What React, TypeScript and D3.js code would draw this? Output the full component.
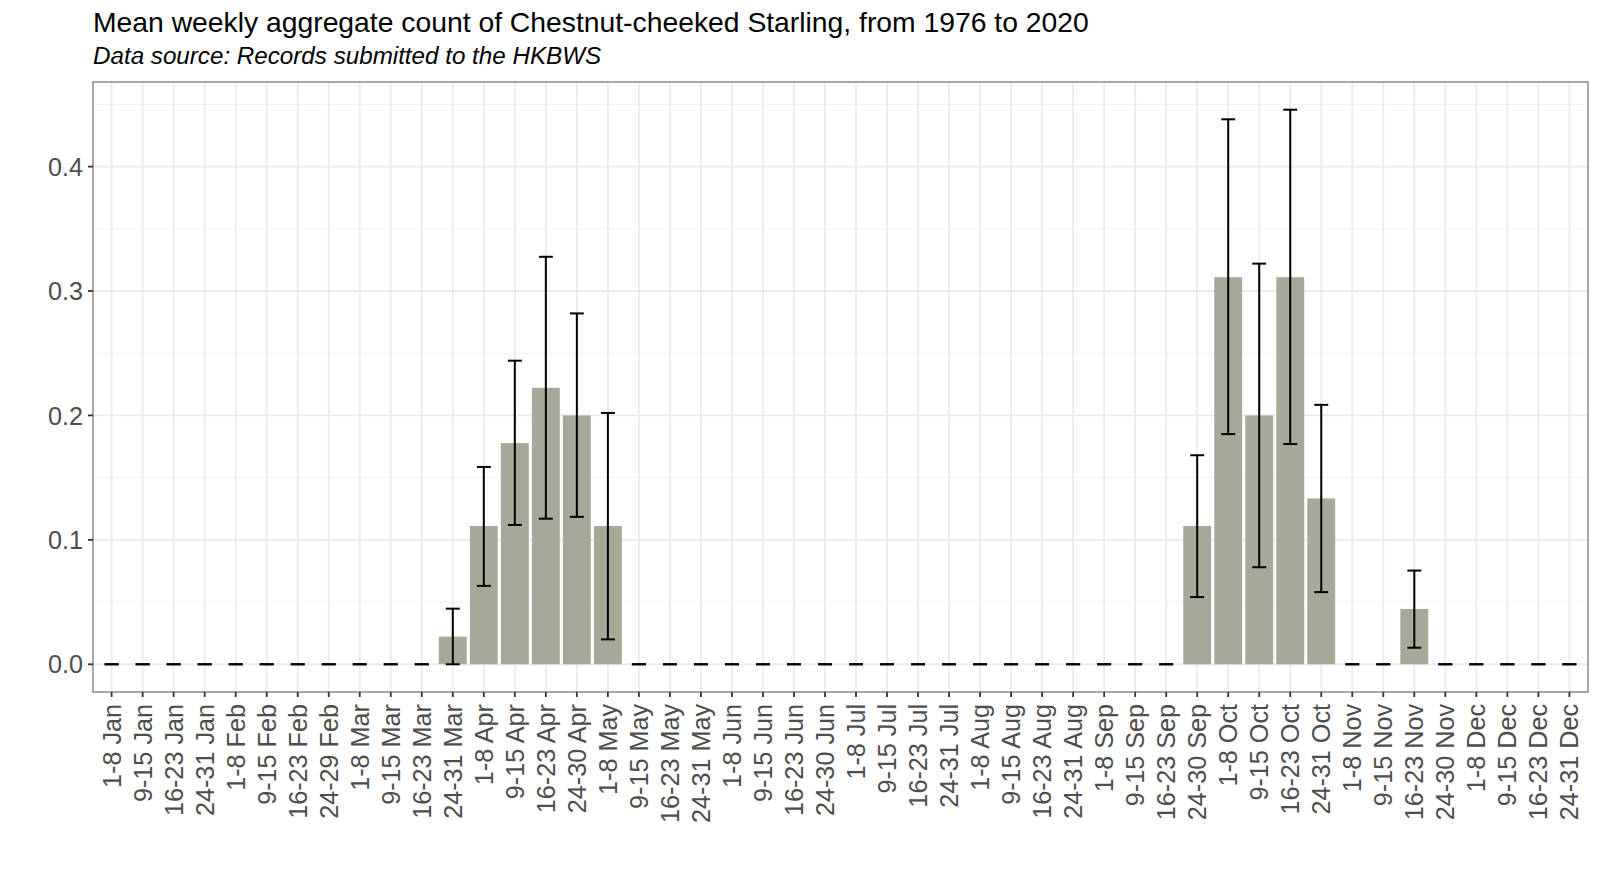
import * as React from "react";
import * as d3 from "d3";

const weeks = [
  "1-8 Jan", "9-15 Jan", "16-23 Jan", "24-31 Jan",
  "1-8 Feb", "9-15 Feb", "16-23 Feb", "24-29 Feb",
  "1-8 Mar", "9-15 Mar", "16-23 Mar", "24-31 Mar",
  "1-8 Apr", "9-15 Apr", "16-23 Apr", "24-30 Apr",
  "1-8 May", "9-15 May", "16-23 May", "24-31 May",
  "1-8 Jun", "9-15 Jun", "16-23 Jun", "24-30 Jun",
  "1-8 Jul", "9-15 Jul", "16-23 Jul", "24-31 Jul",
  "1-8 Aug", "9-15 Aug", "16-23 Aug", "24-31 Aug",
  "1-8 Sep", "9-15 Sep", "16-23 Sep", "24-30 Sep",
  "1-8 Oct", "9-15 Oct", "16-23 Oct", "24-31 Oct",
  "1-8 Nov", "9-15 Nov", "16-23 Nov", "24-30 Nov",
  "1-8 Dec", "9-15 Dec", "16-23 Dec", "24-31 Dec",
];

// mean weekly count
const means = [
  0, 0, 0, 0, 0, 0, 0, 0, 0, 0, 0, 0.0222,
  0.1111, 0.1778, 0.2222, 0.2, 0.1111, 0, 0, 0, 0, 0, 0, 0,
  0, 0, 0, 0, 0, 0, 0, 0, 0, 0, 0, 0.1111,
  0.3111, 0.2, 0.3111, 0.1333, 0, 0, 0.0444, 0, 0, 0, 0, 0,
];

// error bar bounds
const lower = [
  0, 0, 0, 0, 0, 0, 0, 0, 0, 0, 0, 0,
  0.063, 0.112, 0.117, 0.1185, 0.02, 0, 0, 0, 0, 0, 0, 0,
  0, 0, 0, 0, 0, 0, 0, 0, 0, 0, 0, 0.054,
  0.185, 0.078, 0.177, 0.058, 0, 0, 0.0133, 0, 0, 0, 0, 0,
];

const upper = [
  0, 0, 0, 0, 0, 0, 0, 0, 0, 0, 0, 0.0447,
  0.1586, 0.244, 0.3275, 0.282, 0.202, 0, 0, 0, 0, 0, 0, 0,
  0, 0, 0, 0, 0, 0, 0, 0, 0, 0, 0, 0.168,
  0.438, 0.322, 0.4457, 0.2085, 0, 0, 0.0753, 0, 0, 0, 0, 0,
];

const yTicks = [0, 0.1, 0.2, 0.3, 0.4];
const yMinor = [0.05, 0.15, 0.25, 0.35, 0.45];

const title = "Mean weekly aggregate count of Chestnut-cheeked Starling, from 1976 to 2020";
const subtitle = "Data source: Records submitted to the HKBWS";

const W = 1600;
const H = 872;
const panel = { left: 93, right: 1588, top: 82, bottom: 692 };
const font = '"Liberation Sans", Arial, Helvetica, sans-serif';
const tickSize = 25.2;

export default function App() {
  const x = d3
    .scaleBand<string>()
    .domain(weeks)
    .range([panel.left, panel.right])
    .paddingInner(0.1)
    .paddingOuter(0.15);

  const maxY = d3.max(upper) ?? 0;
  const pad = maxY * 0.05;
  const y = d3
    .scaleLinear()
    .domain([-pad, maxY + pad])
    .range([panel.bottom, panel.top]);

  const bw = x.bandwidth();
  const cx = (w: string) => (x(w) ?? 0) + bw / 2;
  const capHalf = (x.step() * 0.45) / 2;

  return (
    <svg
      width={W}
      height={H}
      style={{ position: "absolute", left: 0, top: 0, background: "#fff" }}
      fontFamily={font}
    >
      <rect x={0} y={0} width={W} height={H} fill="#fff" />

      {/* grid */}
      <g>
        {yMinor.map((t) => (
          <line key={"mn" + t} x1={panel.left} x2={panel.right} y1={y(t)} y2={y(t)} stroke="#F2F2F2" strokeWidth={1} />
        ))}
        {yTicks.map((t) => (
          <line key={"mj" + t} x1={panel.left} x2={panel.right} y1={y(t)} y2={y(t)} stroke="#EBEBEB" strokeWidth={1.8} />
        ))}
        {weeks.map((w) => (
          <line key={"vx" + w} x1={cx(w)} x2={cx(w)} y1={panel.top} y2={panel.bottom} stroke="#EBEBEB" strokeWidth={1.8} />
        ))}
      </g>

      {/* bars */}
      <g fill="#A7A898">
        {weeks.map((w, i) => (
          <rect key={"b" + w} x={x(w)} y={y(means[i])} width={bw} height={Math.max(0, y(0) - y(means[i]))} />
        ))}
      </g>

      {/* error bars */}
      <g stroke="#000" strokeWidth={2} fill="none">
        {weeks.map((w, i) => {
          const c = cx(w);
          return (
            <g key={"e" + w}>
              <line x1={c} x2={c} y1={y(lower[i])} y2={y(upper[i])} />
              <line x1={c - capHalf} x2={c + capHalf} y1={y(upper[i])} y2={y(upper[i])} />
              <line x1={c - capHalf} x2={c + capHalf} y1={y(lower[i])} y2={y(lower[i])} />
            </g>
          );
        })}
      </g>

      {/* panel border */}
      <rect
        x={panel.left}
        y={panel.top}
        width={panel.right - panel.left}
        height={panel.bottom - panel.top}
        fill="none"
        stroke="#8A8A8A"
        strokeWidth={1.5}
      />

      {/* y axis */}
      <g>
        {yTicks.map((t) => (
          <g key={"yt" + t}>
            <line x1={panel.left - 5} x2={panel.left} y1={y(t)} y2={y(t)} stroke="#333" strokeWidth={1.8} />
            <text x={panel.left - 10} y={y(t)} dy="0.36em" textAnchor="end" fontSize={tickSize} fill="#4D4D4D">
              {t.toFixed(1)}
            </text>
          </g>
        ))}
      </g>

      {/* x axis */}
      <g>
        {weeks.map((w) => (
          <g key={"xt" + w}>
            <line x1={cx(w)} x2={cx(w)} y1={panel.bottom} y2={panel.bottom + 5} stroke="#333" strokeWidth={1.8} />
            <text
              transform={`translate(${cx(w)},${panel.bottom + 12}) rotate(-90)`}
              dy="0.36em"
              textAnchor="end"
              fontSize={tickSize}
              fill="#4D4D4D"
            >
              {w}
            </text>
          </g>
        ))}
      </g>

      {/* titles */}
      <text x={panel.left} y={32} fontSize={28.3} fill="#000">
        {title}
      </text>
      <text x={panel.left} y={64} fontSize={24.2} fontStyle="italic" fill="#000">
        {subtitle}
      </text>
    </svg>
  );
}
